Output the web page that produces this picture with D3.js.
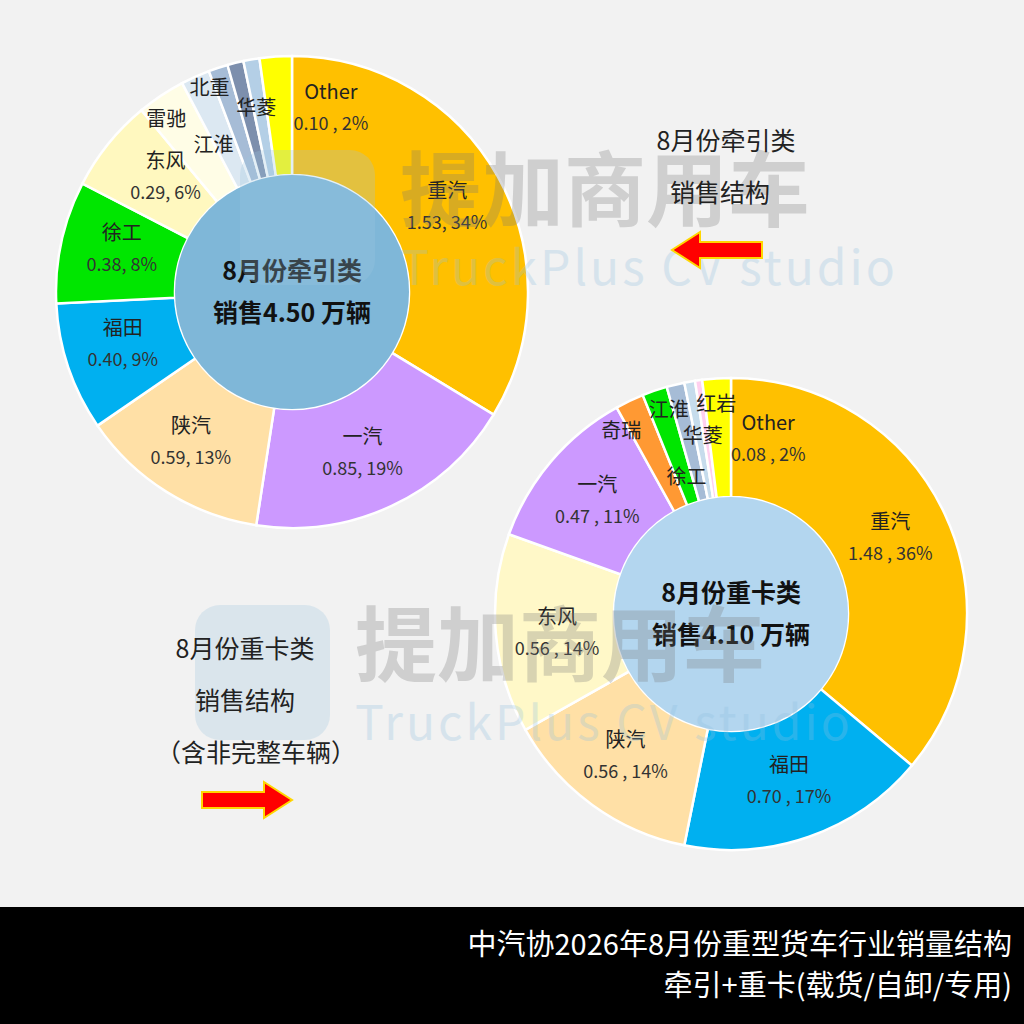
<!DOCTYPE html>
<html><head><meta charset="utf-8">
<script src="https://cdn.jsdelivr.net/npm/d3@7"></script>
<style>body{margin:0;background:#f2f2f2}svg{display:block;font-family:"Noto Sans CJK SC","Noto Sans",sans-serif}</style>
</head><body><svg id="c" width="1024" height="1024"></svg>
<script>
// 牵引类 (万辆)
var tractorNames = ["重汽","一汽","陕汽","福田","徐工","东风","雷驰","江淮","北重","","华菱","Other"];
var tractorValues = [1.53,0.85,0.59,0.40,0.38,0.29,0.15,0.09,0.06,0.05,0.05,0.10];
var tractorValueText = ["1.53, 34%","0.85, 19%","0.59, 13%","0.40, 9%","0.38, 8%","0.29, 6%","","","","","","0.10 , 2%"];
var tractorColors = ["#ffc000","#cc99ff","#ffe0a6","#00b0f0","#00e600","#fff8bf","#fffde6","#dce8f2","#a6bcd6","#7d8fad","#b4cfe6","#ffff00"];
// label polar placement (deg, px)
var tractorLabelAng = [57,154,217,258,289,316,324,332,338,0,349,11];
var tractorLabelR = [185,161,168,173,180,182,214,167,220,0,187,204];

// 重卡类 (万辆)
var heavyNames = ["重汽","福田","陕汽","东风","一汽","奇瑞","徐工","江淮","华菱","红岩","Other"];
var heavyValues = [1.48,0.70,0.56,0.56,0.47,0.08,0.07,0.05,0.03,0.02,0.08];
var heavyValueText = ["1.48 , 36%","0.70 , 17%","0.56 , 14%","0.56 , 14%","0.47 , 11%","","","","","","0.08 , 2%"];
var heavyColors = ["#ffc000","#00b0f0","#ffe0a6","#fff8c8","#cc99ff","#ff9933","#00e600","#a6bcd6","#c6dcec","#ffd0ef","#ffff00"];
var heavyLabelAng = [60,159,220,269,314,329,342,343,351,356,11];
var heavyLabelR = [184,162,164,174,186,213,144,213,180,211,195];

var svg = d3.select("#c");

function watermark(x, y) {
  var g = svg.append("g").attr("opacity", 0.28);
  g.append("rect").attr("x", x).attr("y", y).attr("width", 135).attr("height", 135).attr("rx", 25).attr("fill", "#9ec7e0");
  g.append("text").attr("x", x + 160).attr("y", y + 70).attr("font-size", 82).attr("font-weight", "bold").attr("fill", "#777").text("提加商用车");
  g.append("text").attr("x", x + 160).attr("y", y + 135).attr("font-size", 48).attr("fill", "#8fc0e0").attr("letter-spacing", 3).text("TruckPlus CV studio");
}

function donut(cx, cy, names, values, vtext, colors, angs, rs, centerFill, title1, title2) {
  var g = svg.append("g").attr("transform", "translate(" + cx + "," + cy + ")");
  var pie = d3.pie().sort(null).value(function (d) { return d; });
  var arc = d3.arc().innerRadius(117).outerRadius(236);
  g.selectAll("path").data(pie(values)).join("path")
    .attr("d", arc).attr("fill", function (d, i) { return colors[i]; })
    .attr("stroke", "#fff").attr("stroke-width", 2.5);
  g.append("circle").attr("r", 117).attr("fill", centerFill);
  names.forEach(function (n, i) {
    if (!n) return;
    var a = angs[i] * Math.PI / 180, r = rs[i];
    var x = r * Math.sin(a), y = -r * Math.cos(a);
    g.append("text").attr("x", x).attr("y", y + 7).attr("text-anchor", "middle")
      .attr("font-size", 20).attr("fill", "#222").text(n);
    if (vtext[i]) g.append("text").attr("x", x).attr("y", y + 38).attr("text-anchor", "middle")
      .attr("font-size", 18).attr("fill", "#333").text(vtext[i]);
  });
  g.append("text").attr("y", -12).attr("text-anchor", "middle").attr("font-size", 25).attr("font-weight", "bold").attr("fill", "#111").text(title1);
  g.append("text").attr("y", 30).attr("text-anchor", "middle").attr("font-size", 25).attr("font-weight", "bold").attr("fill", "#111").text(title2);
}

donut(292, 292, tractorNames, tractorValues, tractorValueText, tractorColors, tractorLabelAng, tractorLabelR, "#7fb7d8", "8月份牵引类", "销售4.50 万辆");
donut(731, 614, heavyNames, heavyValues, heavyValueText, heavyColors, heavyLabelAng, heavyLabelR, "#b3d6ef", "8月份重卡类", "销售4.10 万辆");
watermark(240, 150);
watermark(195, 605);

function arrow(x, y, dir) {
  var p = [[0,-8],[62,-8],[62,-18],[90,0],[62,18],[62,8],[0,8]];
  svg.append("polygon").attr("points", p.map(function (q) { return (x + dir * q[0]) + "," + (y + q[1]); }).join(" "))
    .attr("fill", "#ff0000").attr("stroke", "#ffd700").attr("stroke-width", 2);
}
svg.append("text").attr("x", 726).attr("y", 150).attr("text-anchor", "middle").attr("font-size", 25).attr("fill", "#222").text("8月份牵引类");
svg.append("text").attr("x", 720).attr("y", 202).attr("text-anchor", "middle").attr("font-size", 25).attr("fill", "#222").text("销售结构");
arrow(762, 250, -1);
svg.append("text").attr("x", 245).attr("y", 658).attr("text-anchor", "middle").attr("font-size", 25).attr("fill", "#222").text("8月份重卡类");
svg.append("text").attr("x", 245).attr("y", 710).attr("text-anchor", "middle").attr("font-size", 25).attr("fill", "#222").text("销售结构");
svg.append("text").attr("x", 256).attr("y", 762).attr("text-anchor", "middle").attr("font-size", 25).attr("fill", "#222").text("（含非完整车辆）");
arrow(202, 800, 1);

svg.append("rect").attr("x", 0).attr("y", 907).attr("width", 1024).attr("height", 117).attr("fill", "#000");
svg.append("text").attr("x", 1012).attr("y", 955).attr("text-anchor", "end").attr("font-size", 29).attr("fill", "#fff").text("中汽协2026年8月份重型货车行业销量结构");
svg.append("text").attr("x", 1012).attr("y", 996).attr("text-anchor", "end").attr("font-size", 29).attr("fill", "#fff").text("牵引+重卡(载货/自卸/专用)");
</script></body></html>
